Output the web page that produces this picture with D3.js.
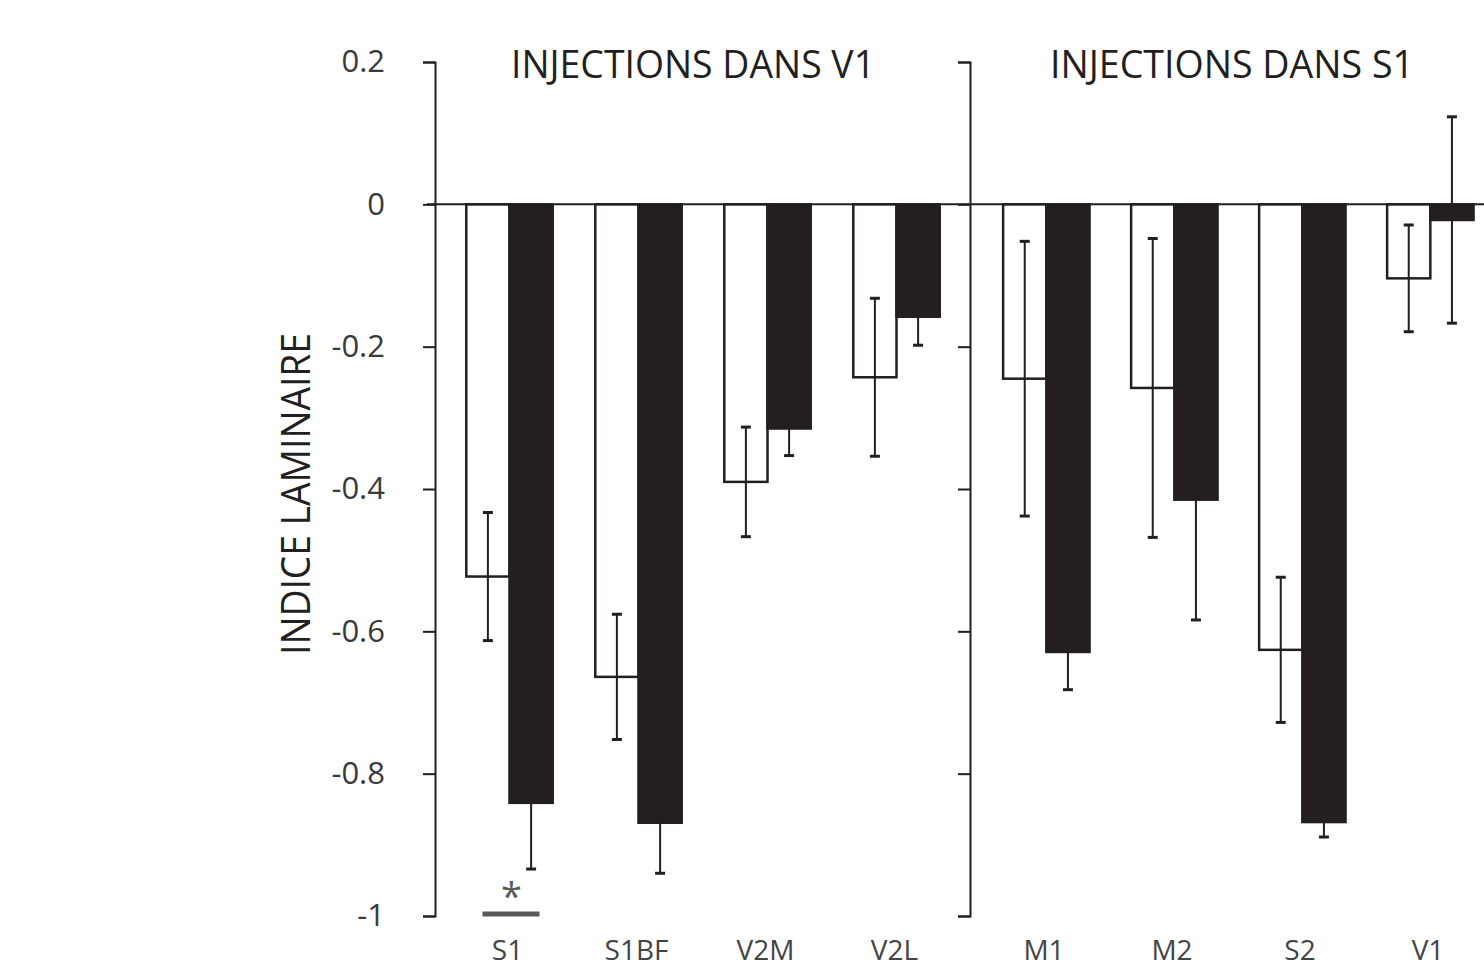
<!DOCTYPE html>
<html>
<head>
<meta charset="utf-8">
<script src="https://cdn.jsdelivr.net/npm/d3@7"></script>
<style>
  body { margin: 0; background: #fff; }
  svg { display: block; }
</style>
</head>
<body>
<div id="chart"></div>
<script>
// Data
const leftCats = ["S1", "S1BF", "V2M", "V2L"];
const rightCats = ["M1", "M2", "S2", "V1"];
// white bars (first series) and black bars (second series)
const whiteVals = [-0.523, -0.664, -0.390, -0.243, -0.245, -0.258, -0.626, -0.104];
const whiteErr  = [0.090, 0.088, 0.077, 0.111, 0.193, 0.210, 0.102, 0.075];
const blackVals = [-0.841, -0.869, -0.315, -0.158, -0.629, -0.415, -0.868, -0.022];
const blackErr  = [0.093, 0.071, 0.038, 0.040, 0.053, 0.169, 0.021, 0.145];
const yTicks = [0.2, 0, -0.2, -0.4, -0.6, -0.8, -1];
const yTickLabels = ["0.2", "0", "-0.2", "-0.4", "-0.6", "-0.8", "-1"];
const panelTitles = ["INJECTIONS DANS V1", "INJECTIONS DANS S1"];

const W = 1484, H = 969;
const ink = "#231f20";

const svg = d3.select("#chart").append("svg")
    .attr("width", W)
    .attr("height", H);

const y = d3.scaleLinear().domain([-1, 0.2]).range([916, 62]);

// one band scale per panel
const xLeft = d3.scaleBand().domain(leftCats).range([445, 961])
    .paddingInner(0.33).paddingOuter(0.165);
const xRight = d3.scaleBand().domain(rightCats).range([982, 1494])
    .paddingInner(0.33).paddingOuter(0.165);
const sub = d3.scaleBand().domain(["w", "b"]).range([0, xLeft.bandwidth()]).padding(0);

const rows = leftCats.concat(rightCats).map((c, i) => ({
    cat: c,
    x: i < 4 ? xLeft : xRight,
    w: whiteVals[i], we: whiteErr[i],
    b: blackVals[i], be: blackErr[i]
}));

// bars
const bars = [];
rows.forEach(d => {
    bars.push({ x: d.x(d.cat) + sub("w"), v: d.w, e: d.we, fill: "#fff" });
    bars.push({ x: d.x(d.cat) + sub("b"), v: d.b, e: d.be, fill: ink });
});

svg.selectAll(".bar")
    .data(bars)
    .enter().append("rect")
    .attr("class", "bar")
    .attr("x", d => d.x)
    .attr("y", d => y(Math.max(0, d.v)))
    .attr("width", sub.bandwidth())
    .attr("height", d => Math.abs(y(d.v) - y(0)))
    .attr("fill", d => d.fill)
    .attr("stroke", ink)
    .attr("stroke-width", 2.5);

// error bars
const eb = svg.selectAll(".err")
    .data(bars)
    .enter().append("g")
    .attr("class", "err")
    .attr("stroke", ink)
    .attr("stroke-width", 2);

eb.append("line")
    .attr("x1", d => d.x + sub.bandwidth() / 2)
    .attr("x2", d => d.x + sub.bandwidth() / 2)
    .attr("y1", d => y(d.v + d.e))
    .attr("y2", d => y(d.v - d.e));
eb.append("line")
    .attr("x1", d => d.x + sub.bandwidth() / 2 - 5)
    .attr("x2", d => d.x + sub.bandwidth() / 2 + 5)
    .attr("y1", d => y(d.v + d.e))
    .attr("y2", d => y(d.v + d.e))
    .attr("stroke-width", 3);
eb.append("line")
    .attr("x1", d => d.x + sub.bandwidth() / 2 - 5)
    .attr("x2", d => d.x + sub.bandwidth() / 2 + 5)
    .attr("y1", d => y(d.v - d.e))
    .attr("y2", d => y(d.v - d.e))
    .attr("stroke-width", 3);

// zero line
svg.append("line")
    .attr("x1", 427).attr("x2", W)
    .attr("y1", y(0)).attr("y2", y(0))
    .attr("stroke", ink)
    .attr("stroke-width", 2);

// left axis with labels
const axL = svg.append("g")
    .attr("transform", "translate(435,0)")
    .call(d3.axisLeft(y).tickValues(yTicks).tickFormat((d, i) => yTickLabels[i])
        .tickSize(12).tickSizeOuter(12).tickPadding(38));
axL.selectAll("path, line").attr("stroke", ink).attr("stroke-width", 2);
axL.selectAll("text")
    .style("font-family", "Open Sans")
    .style("font-size", "31px")
    .attr("fill", "#3a3a3a");

// right axis, ticks only
const axR = svg.append("g")
    .attr("transform", "translate(970,0)")
    .call(d3.axisLeft(y).tickValues(yTicks).tickFormat("")
        .tickSize(12).tickSizeOuter(12));
axR.selectAll("path, line").attr("stroke", ink).attr("stroke-width", 2);

// category labels
svg.selectAll(".cat")
    .data(rows)
    .enter().append("text")
    .attr("class", "cat")
    .attr("x", d => d.x(d.cat) + d.x.bandwidth() / 2 - 2)
    .attr("y", 960)
    .attr("text-anchor", "middle")
    .style("font-family", "Open Sans")
    .style("font-size", "28px")
    .attr("fill", "#444")
    .text(d => d.cat);

// panel titles
svg.selectAll(".ptitle")
    .data(panelTitles)
    .enter().append("text")
    .attr("class", "ptitle")
    .attr("x", (d, i) => i === 0 ? 693 : 1232)
    .attr("y", 78)
    .attr("text-anchor", "middle")
    .attr("textLength", 364)
    .attr("lengthAdjust", "spacingAndGlyphs")
    .style("font-family", "Open Sans")
    .style("font-size", "39px")
    .attr("fill", ink)
    .text(d => d);

// y axis title
svg.append("text")
    .attr("transform", "translate(310,494) rotate(-90)")
    .attr("text-anchor", "middle")
    .attr("textLength", 322)
    .attr("lengthAdjust", "spacingAndGlyphs")
    .style("font-family", "Open Sans")
    .style("font-size", "40px")
    .attr("fill", ink)
    .text("INDICE LAMINAIRE");

// significance marker under S1
const s1c = xLeft("S1") + xLeft.bandwidth() / 2;
svg.append("line")
    .attr("x1", s1c - 27).attr("x2", s1c + 30)
    .attr("y1", y(-1) - 2).attr("y2", y(-1) - 2)
    .attr("stroke", "#58595b")
    .attr("stroke-width", 5);
svg.append("text")
    .attr("x", s1c + 2)
    .attr("y", y(-1) - 6)
    .attr("text-anchor", "middle")
    .style("font-family", "Open Sans")
    .style("font-size", "38px")
    .attr("fill", "#58595b")
    .text("*");
</script>
</body>
</html>
